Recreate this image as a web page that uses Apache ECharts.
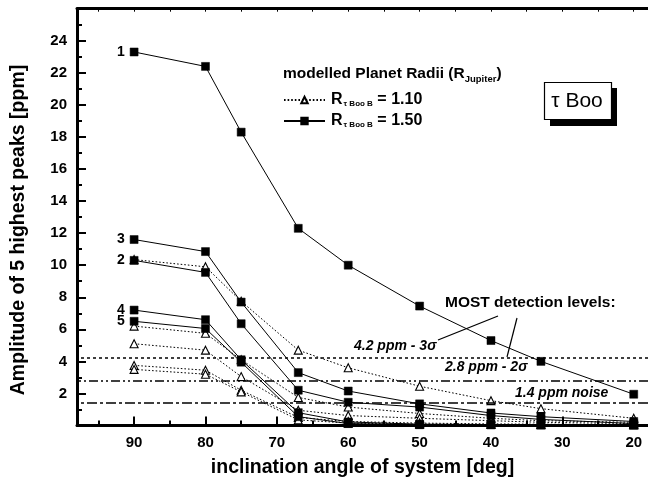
<!DOCTYPE html>
<html>
<head>
<meta charset="utf-8">
<script src="https://cdn.jsdelivr.net/npm/echarts@6/dist/echarts.min.js"></script>
<style>
  html, body { margin: 0; padding: 0; background: #fff; }
  #chart { width: 648px; height: 485px; }
</style>
</head>
<body>
<div id="chart"></div>
<script>
// Inclination angles of the system (deg)
var inclination = [90, 80, 75, 67, 60, 50, 40, 33, 20];

// Amplitudes of the 5 highest peaks (ppm), planet radius 1.50 R_Jupiter
var peak1_r150 = [23.3, 22.4, 18.3, 12.3, 10.0, 7.45, 5.3, 4.0, 1.95];
var peak2_r150 = [10.3, 9.55, 6.35, 2.2, 1.45, 1.15, 0.62, 0.38, 0.12];
var peak3_r150 = [11.6, 10.85, 7.7, 3.3, 2.15, 1.35, 0.78, 0.55, 0.25];
var peak4_r150 = [7.2, 6.6, 4.1, 0.8, 0.22, 0.08, 0.06, 0.05, 0.04];
var peak5_r150 = [6.5, 6.05, 3.95, 0.55, 0.12, 0.05, 0.04, 0.03, 0.03];

// Amplitudes of the 5 highest peaks (ppm), planet radius 1.10 R_Jupiter
var peak1_r110 = [10.35, 9.9, 7.75, 4.7, 3.6, 2.45, 1.55, 1.05, 0.45];
var peak2_r110 = [6.2, 5.75, 4.1, 1.75, 1.15, 0.75, 0.45, 0.3, 0.2];
var peak3_r110 = [5.1, 4.7, 3.05, 0.95, 0.62, 0.45, 0.3, 0.2, 0.12];
var peak4_r110 = [3.75, 3.45, 2.2, 0.5, 0.25, 0.15, 0.1, 0.08, 0.06];
var peak5_r110 = [3.5, 3.2, 2.1, 0.35, 0.15, 0.08, 0.06, 0.05, 0.04];

// MOST detection levels (ppm)
var levelNames = ['4.2 ppm - 3σ', '2.8 ppm - 2σ', '1.4 ppm noise'];
var levelValues = [4.2, 2.8, 1.4];

// Axis tick positions
var xMajorTicks = [20, 30, 40, 50, 60, 70, 80, 90];
var xMinorTicks = [25, 35, 45, 55, 65, 75, 85, 95];
var xTopTicks = [20, 25, 30, 35, 40, 45, 50, 55, 60, 65, 70, 75, 80, 85, 90, 95];

var radiusSmall = '1.10';
var radiusLarge = '1.50';

var font = '"Liberation Sans", Arial, Helvetica, sans-serif';

function pairs(ys) {
  return inclination.map(function (x, i) { return [x, ys[i]]; });
}

var smallSets = [peak1_r110, peak2_r110, peak3_r110, peak4_r110, peak5_r110];
var largeSets = [peak1_r150, peak2_r150, peak3_r150, peak4_r150, peak5_r150];
var largeRank = ['1', '2', '3', '4', '5'];

var series = [];

smallSets.forEach(function (ys, k) {
  var s = {
    name: radiusSmall,
    type: 'line',
    data: pairs(ys),
    symbol: 'triangle',
    symbolSize: [8, 8],
    z: 2,
    itemStyle: { color: '#fff', borderColor: '#000', borderWidth: 1.1 },
    lineStyle: { color: '#000', width: 1, type: [1.6, 2] },
    emphasis: { disabled: true },
    animation: false
  };
  if (k === 0) {
    s.markLine = {
      silent: true,
      symbol: 'none',
      animation: false,
      label: { show: false },
      data: [
        { yAxis: levelValues[0], lineStyle: { color: '#000', width: 1.5, type: [3, 3] } },
        { yAxis: levelValues[1], lineStyle: { color: '#000', width: 1.5, type: [9, 3, 2, 3, 2, 3] } },
        { yAxis: levelValues[2], lineStyle: { color: '#000', width: 1.5, type: [10, 3, 3, 3] } }
      ]
    };
  }
  series.push(s);
});

largeSets.forEach(function (ys, k) {
  series.push({
    name: radiusLarge,
    type: 'line',
    data: pairs(ys),
    symbol: 'rect',
    symbolSize: 8,
    z: 3,
    itemStyle: { color: '#000', borderColor: '#000', borderWidth: 0.5 },
    lineStyle: { color: '#000', width: 1, type: 'solid' },
    emphasis: { disabled: true },
    animation: false,
    label: {
      show: true,
      position: 'left',
      distance: 5,
      fontFamily: font,
      fontWeight: 'bold',
      fontSize: 14,
      color: '#000',
      formatter: function (p) { return p.dataIndex === 0 ? largeRank[k] : ''; }
    }
  });
});

var chart = echarts.init(document.getElementById('chart'), null, { renderer: 'canvas' });

chart.setOption({
  backgroundColor: '#fff',
  animation: false,
  textStyle: { fontFamily: font },
  grid: { left: 77, right: 0, top: 8.7, bottom: 59.5, containLabel: false },
  title: {
    left: 283,
    top: 64,
    padding: 0,
    text: '{b|modelled Planet Radii (R}{s|Jupiter}{b|)}',
    textStyle: {
      rich: {
        b: { fontFamily: font, fontSize: 15.5, fontWeight: 'bold', color: '#000', lineHeight: 20, verticalAlign: 'middle' },
        s: { fontFamily: font, fontSize: 9.5, fontWeight: 'bold', color: '#000', lineHeight: 20, verticalAlign: 'bottom' }
      }
    }
  },
  legend: {
    orient: 'vertical',
    left: 283,
    top: 92,
    padding: 0,
    itemWidth: 41,
    itemHeight: 8,
    itemGap: 5,
    data: [radiusSmall, radiusLarge],
    selectedMode: false,
    formatter: function (name) {
      return '{r|R}{s|τ Boo B}{v| = ' + name + '}';
    },
    textStyle: {
      padding: [0, 0, 0, 1],
      rich: {
        r: { fontFamily: font, fontSize: 16, fontWeight: 'bold', color: '#000', lineHeight: 16, verticalAlign: 'middle' },
        s: { fontFamily: font, fontSize: 8, fontWeight: 'bold', color: '#000', lineHeight: 16, verticalAlign: 'bottom', padding: [0, 0, 0, 1] },
        v: { fontFamily: font, fontSize: 16, fontWeight: 'bold', color: '#000', lineHeight: 16, verticalAlign: 'middle' }
      }
    }
  },
  xAxis: [
    {
      type: 'value',
      min: 18,
      max: 98,
      inverse: true,
      position: 'bottom',
      name: 'inclination angle of system [deg]',
      nameLocation: 'middle',
      nameGap: 32,
      nameTextStyle: { fontFamily: font, fontSize: 19.5, fontWeight: 'bold', color: '#000' },
      axisLine: { show: true, lineStyle: { color: '#000', width: 3 } },
      axisTick: { show: true, inside: true, length: 9, lineStyle: { color: '#000', width: 2 }, customValues: xMajorTicks },
      axisLabel: { show: true, margin: 10, fontFamily: font, fontSize: 15, fontWeight: 'bold', color: '#000', customValues: xMajorTicks },
      splitLine: { show: false }
    },
    {
      type: 'value',
      min: 18,
      max: 98,
      inverse: true,
      position: 'bottom',
      axisLine: { show: false },
      axisTick: { show: true, inside: true, length: 5, lineStyle: { color: '#000', width: 2 }, customValues: xMinorTicks },
      axisLabel: { show: false },
      splitLine: { show: false }
    },
    {
      type: 'value',
      min: 18,
      max: 98,
      inverse: true,
      position: 'top',
      axisLine: { show: true, lineStyle: { color: '#000', width: 3 } },
      axisTick: { show: true, inside: true, length: 3, lineStyle: { color: '#000', width: 1 }, customValues: xTopTicks },
      axisLabel: { show: false },
      splitLine: { show: false }
    }
  ],
  yAxis: {
    type: 'value',
    min: 0,
    max: 26,
    interval: 2,
    axisLine: { show: true, lineStyle: { color: '#000', width: 3 } },
    axisTick: { show: true, inside: true, length: 9, lineStyle: { color: '#000', width: 2 } },
    minorTick: { show: true, splitNumber: 2, length: 5, lineStyle: { color: '#000', width: 2 } },
    axisLabel: {
      margin: 10,
      fontFamily: font,
      fontSize: 15,
      fontWeight: 'bold',
      color: '#000',
      formatter: function (v) { return (v === 0 || v === 26) ? '' : String(v); }
    },
    splitLine: { show: false },
    minorSplitLine: { show: false }
  },
  graphic: [
    {
      type: 'text',
      x: 19,
      y: 230,
      rotation: Math.PI / 2,
      style: {
        text: 'Amplitude of 5 highest peaks [ppm]',
        font: 'bold 19.5px ' + font,
        fill: '#000',
        align: 'center',
        verticalAlign: 'middle'
      }
    },
    {
      type: 'rect',
      shape: { x: 550, y: 88, width: 67, height: 38 },
      style: { fill: '#000' }
    },
    {
      type: 'rect',
      shape: { x: 544.5, y: 82.5, width: 67, height: 37 },
      style: { fill: '#fff', stroke: '#000', lineWidth: 1.2 }
    },
    {
      type: 'text',
      x: 577,
      y: 101,
      style: { text: 'τ Boo', font: '21px ' + font, fill: '#000', align: 'center', verticalAlign: 'middle' }
    },
    {
      type: 'text',
      x: 445,
      y: 303,
      style: { text: 'MOST detection levels:', font: 'bold 15.5px ' + font, fill: '#000', align: 'left', verticalAlign: 'middle' }
    },
    {
      type: 'line',
      shape: { x1: 498, y1: 316, x2: 438, y2: 340 },
      style: { stroke: '#000', lineWidth: 1.2 }
    },
    {
      type: 'line',
      shape: { x1: 517, y1: 318, x2: 507, y2: 357 },
      style: { stroke: '#000', lineWidth: 1.2 }
    },
    {
      type: 'text',
      x: 354,
      y: 346,
      style: { text: levelNames[0], font: 'italic bold 14px ' + font, fill: '#000', align: 'left', verticalAlign: 'middle' }
    },
    {
      type: 'text',
      x: 445,
      y: 367,
      style: { text: levelNames[1], font: 'italic bold 14px ' + font, fill: '#000', align: 'left', verticalAlign: 'middle' }
    },
    {
      type: 'text',
      x: 515,
      y: 393,
      style: { text: levelNames[2], font: 'italic bold 14px ' + font, fill: '#000', align: 'left', verticalAlign: 'middle' }
    }
  ],
  series: series
});
</script>
</body>
</html>
